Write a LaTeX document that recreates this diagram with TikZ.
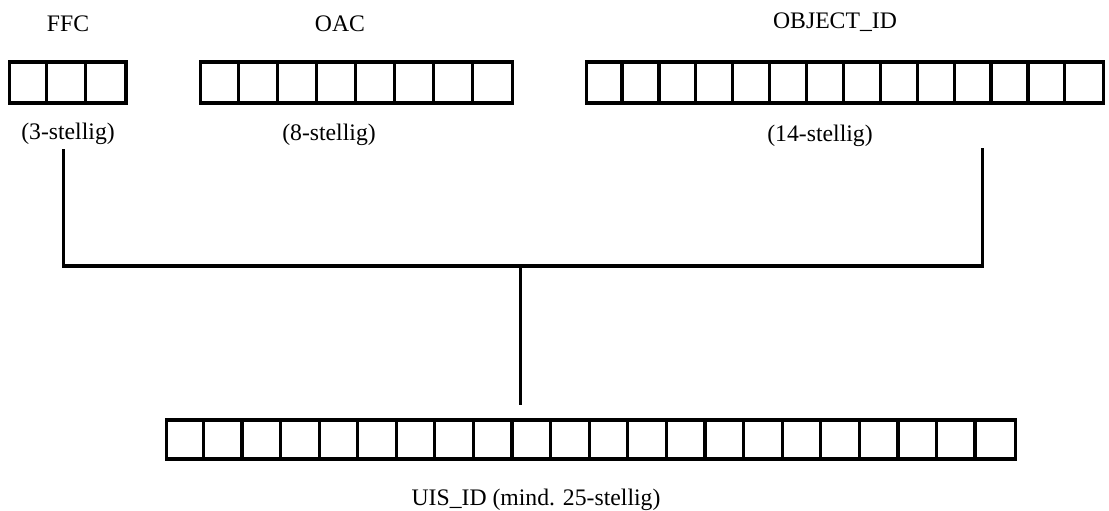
\documentclass[tikz,border=0pt]{standalone}
\usepackage{fontspec}
\setmainfont{Liberation Serif}
\begin{document}
\begin{tikzpicture}[x=1bp,y=-1bp,
  lbl/.style={font=\fontsize{23.7bp}{28bp}\selectfont, inner sep=0pt, anchor=base},
  cellrow/.style={draw, line width=3.2bp, inner sep=0pt, minimum height=41bp},
  conn/.style={line width=3.2bp, line cap=rect},
  divider/.style={line width=3.2bp}
]
\useasboundingbox (0,0) rectangle (1109,511);
\fill[white] (0,0) rectangle (1109,511);

% top labels
\node[lbl] (tffc) at (68,32) {FFC};
\node[lbl] (toac) at (340,32) {OAC};
\node[lbl] (tobj) at (835,29) {OBJECT\_ID};

% rows of digit cells
\node[cellrow, minimum width=116.7bp] (ffc) at (67.65,82.5) {};
\foreach \i in {1,2}
  \draw[divider] ([xshift=\i*38.9bp]ffc.north west) -- ([xshift=\i*38.9bp]ffc.south west);

\node[cellrow, minimum width=312bp] (oac) at (356.7,82.5) {};
\foreach \i in {1,...,7}
  \draw[divider] ([xshift=\i*39bp]oac.north west) -- ([xshift=\i*39bp]oac.south west);

\node[cellrow, minimum width=516.6bp] (obj) at (845,82.5) {};
\foreach \i in {1,...,13}
  \draw[divider] ([xshift=\i*36.9bp]obj.north west) -- ([xshift=\i*36.9bp]obj.south west);

% sub labels
\node[lbl] (sffc) at (68,140) {(3-stellig)};
\node[lbl] (soac) at (329,141) {(8-stellig)};
\node[lbl] (sobj) at (820,142) {(14-stellig)};

% bottom row
\node[cellrow, minimum width=848.9bp, minimum height=39bp] (uis) at (590.85,439.5) {};
\foreach \i in {1,...,21}
  \draw[divider] ([xshift=\i*38.585bp]uis.north west) -- ([xshift=\i*38.585bp]uis.south west);
\node[lbl] (tuis) at (536,505) {UIS\_ID (mind. 25-stellig)};

% connectors
\coordinate (c1) at (63.3,150.5);
\coordinate (c2) at (982.7,149.5);
\coordinate (j1) at (63.3,266);
\coordinate (j2) at (982.7,266);
\coordinate (jm) at (520.3,266);
\coordinate (ce) at (520.3,405);
\draw[conn, line join=miter] (c1) -- (j1) -- (j2) -- (c2);
\draw[line width=3bp] (jm) -- (ce);
\end{tikzpicture}
\end{document}
